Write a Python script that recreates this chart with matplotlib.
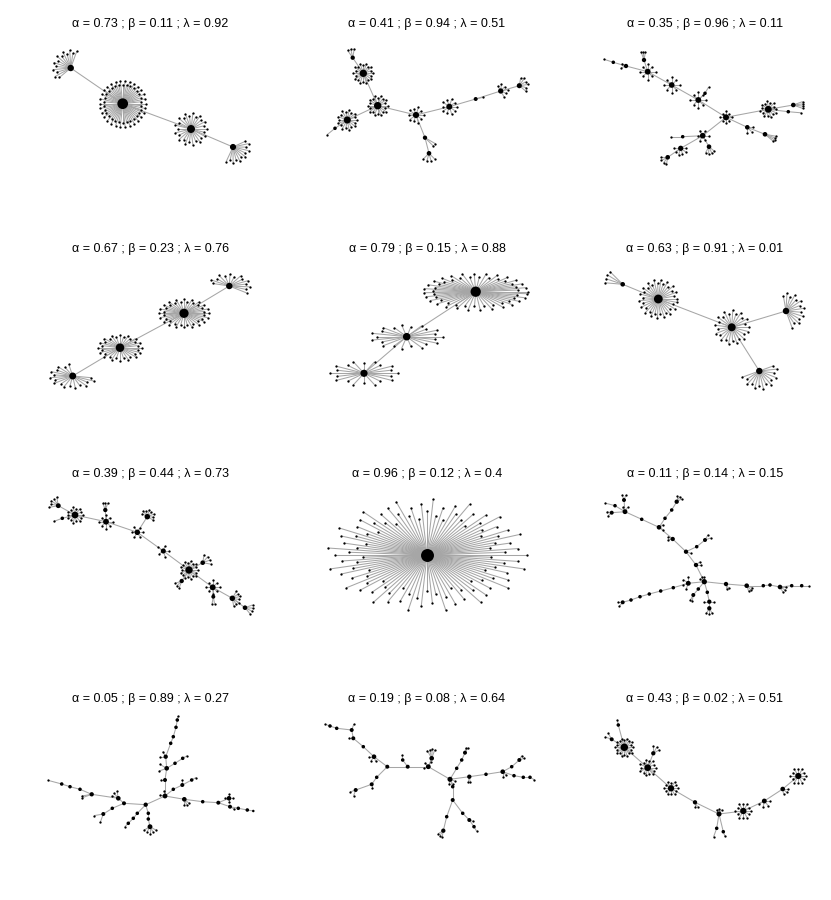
import numpy as np
import matplotlib
matplotlib.use("Agg")
import matplotlib.pyplot as plt
from matplotlib.collections import LineCollection

# ---------------- titles ----------------
alphas = [0.73, 0.41, 0.35, 0.67, 0.79, 0.63, 0.39, 0.96, 0.11, 0.05, 0.19, 0.43]
betas = [0.11, 0.94, 0.96, 0.23, 0.15, 0.91, 0.44, 0.12, 0.14, 0.89, 0.08, 0.02]
lambdas = ["0.92", "0.51", "0.11", "0.76", "0.88", "0.01", "0.73", "0.4", "0.15", "0.27", "0.64", "0.51"]

# ---------------- graphs (layout coordinates, parent index, leaf fans) ----------------
# fan: (node, n_leaves, rx, ry, angle_from, angle_to)
p1_x = [70.7, 122.7, 191, 233]
p1_y = [68, 103.7, 129, 147]
p1_par = [-1, 0, 1, 2]
p1_fans = [(0, 14, 18, 18, 70, 220), (1, 60, 23, 23, 0, 360), (2, 26, 16, 16, 0, 360), (3, 12, 16, 16, -115, 25)]

p2_x = [363.3, 377.7, 347.3, 416, 425, 429, 449.3, 475.7, 500.7, 519.3, 352.7, 335]
p2_y = [73.3, 105.7, 120, 115, 137.7, 153.3, 106.7, 99, 91, 85.7, 57.7, 128.3]
p2_par = [-1, 0, 1, 1, 3, 4, 3, 6, 7, 8, 0, 2]
p2_fans = [(0, 20, 10, 10, 0, 360), (1, 20, 10, 10, 0, 360), (2, 18, 10, 10, 0, 360), (3, 10, 8, 8, 0, 360),
           (4, 2, 12, 12, -45, -30), (5, 4, 8, 8, -135, -45), (6, 10, 8, 8, 0, 360), (7, 1, 7, 7, 13, 13),
           (8, 6, 7, 7, -60, 120), (9, 6, 9, 9, -40, 80), (10, 3, 9, 9, 80, 125), (11, 1, 10, 10, 219, 219)]

p3_x = [726, 698.3, 671.7, 647.7, 644, 626, 613.3, 705, 768.3, 793.3, 788.3, 747.3, 765, 702.7, 682.7, 709, 680.7, 667.7]
p3_y = [117.3, 100, 85, 71.7, 60, 66, 62.3, 93.3, 109.3, 105, 111.7, 127.3, 134.3, 135.7, 136.7, 146.7, 148.3, 157.3]
p3_par = [-1, 0, 1, 2, 3, 3, 5, 1, 0, 8, 8, 0, 11, 0, 13, 13, 13, 16]
p3_fans = [(0, 8, 6, 6, 0, 360), (1, 8, 8, 8, 0, 360), (2, 8, 8, 8, 0, 360), (3, 8, 8, 8, 0, 360),
           (4, 3, 8, 8, 80, 110), (5, 2, 5, 5, 150, 200), (6, 1, 10, 10, 162, 162), (7, 1, 7, 7, 60, 60),
           (8, 15, 8, 8, 0, 360), (9, 4, 10, 10, -20, 20), (10, 1, 13, 13, -5, -5), (11, 3, 6, 6, -90, 0),
           (12, 4, 11, 11, -40, -10), (13, 6, 6, 6, 0, 360), (14, 1, 12, 12, 180, 180), (15, 4, 7, 7, -120, -40),
           (16, 6, 7, 7, -180, 0), (17, 4, 7, 7, 180, 260)]

p4_x = [229.3, 184, 120, 72.7]
p4_y = [286, 313.3, 347.7, 376]
p4_par = [-1, 0, 1, 2]
p4_fans = [(0, 14, 21, 12, -35, 165), (1, 40, 25, 14, 0, 360), (2, 32, 22, 13, 0, 360), (3, 18, 23, 12, 100, 350)]

p5_x = [475.7, 406.7, 364]
p5_y = [291.7, 336.7, 373.3]
p5_par = [-1, 0, 1]
p5_fans = [(0, 55, 52, 18, 0, 360), (1, 22, 36, 12, 0, 360), (2, 20, 34, 12, 0, 360)]

p6_x = [622.7, 658.3, 731.7, 786, 759.3]
p6_y = [284.3, 299, 327.3, 311, 371]
p6_par = [-1, 0, 1, 2, 2]
p6_fans = [(0, 4, 18, 18, 135, 175), (1, 35, 19, 19, 0, 360), (2, 25, 17, 17, 0, 360),
           (3, 14, 18, 18, -70, 100), (4, 14, 18, 18, -160, 20)]

p7_x = [58.3, 75, 106, 137.3, 163.3, 189, 212.7, 232.3, 245, 62.3, 105.3, 147.3, 202.7, 181.7, 213.3]
p7_y = [505.7, 515, 521.7, 532.3, 551, 570, 587.3, 598.3, 607.7, 518.3, 510, 516.7, 562.7, 581, 596.7]
p7_par = [-1, 0, 1, 2, 3, 4, 5, 6, 7, 1, 2, 3, 5, 5, 6]
p7_fans = [(0, 5, 9, 9, 100, 190), (1, 14, 8, 8, 0, 360), (2, 8, 7, 7, 0, 360), (3, 6, 6, 6, 0, 360),
           (4, 5, 6, 6, 0, 360), (5, 18, 9, 9, 0, 360), (6, 8, 7, 7, 0, 360), (7, 7, 8, 8, -80, 60),
           (8, 4, 8, 8, -50, 20), (9, 1, 9, 9, 200, 200), (10, 3, 7, 7, 70, 110), (11, 8, 7, 7, -30, 150),
           (12, 4, 8, 8, -10, 80), (13, 3, 7, 7, 200, 250), (14, 2, 7, 7, -100, -80)]

p8_x = [427]
p8_y = [555]
p8_par = [-1]
p8_fans = [(0, 100, 100, 56, 0, 360)]

p9_x = [704.3, 696, 686, 672.7, 659, 641.7, 625, 615, 611.7, 624, 665, 671.7, 676.7, 696.7, 705,
        688.3, 673.3, 660.7, 649.3, 640, 631, 622.7, 698.3, 693.3, 707.3, 709.3, 709.3,
        726, 746.7, 763.3, 770, 780, 791.7, 801.7]
p9_y = [581.7, 565, 551.7, 539, 527.3, 519.3, 511.7, 505.7, 512.7, 500, 518.3, 510, 501.7, 546.7, 540,
        583.3, 587.7, 591, 594, 596.7, 600, 602.3, 589, 595, 592.3, 601.7, 608.3,
        584, 585.7, 585.7, 585, 587, 585.7, 585.7]
p9_par = [-1, 0, 1, 2, 3, 4, 5, 6, 6, 6, 4, 10, 11, 2, 13,
          0, 15, 16, 17, 18, 19, 20, 0, 22, 0, 24, 25,
          0, 27, 28, 29, 30, 31, 32]
p9_fans = [(7, 1, 10, 10, 165, 165), (8, 2, 5, 5, 170, 220), (9, 2, 5, 5, 70, 110), (6, 2, 5, 5, 60, 120),
           (4, 2, 5, 5, -30, 30), (12, 3, 6, 6, 30, 90), (3, 2, 5, 5, 150, 190), (14, 2, 6, 6, 20, 60),
           (2, 1, 5, 5, -20, -20), (15, 4, 6, 6, 90, 250), (21, 2, 5, 5, 180, 230), (23, 2, 6, 6, -120, -100),
           (26, 3, 6, 6, -120, -60), (25, 2, 5, 5, 0, 180), (27, 2, 5, 5, -80, -60), (28, 3, 6, 6, -70, -20),
           (31, 3, 6, 6, -60, 0), (33, 1, 7, 7, 0, 0), (1, 2, 5, 5, 0, 40), (0, 3, 5, 5, 90, 150)]

p10_x = [165, 145.7, 124, 165, 166.7, 175, 182.7, 165.7, 170.7, 173.3, 176, 177.3, 173.3, 182.3, 191.7,
         184.3, 202.7, 218.3, 230, 229, 238.3, 247.3, 253.3, 118.3, 91.7, 80, 70, 61.7,
         112.3, 103.3, 148.3, 148.3, 150, 137.3, 133.3, 128.3]
p10_y = [796, 804.7, 803.3, 780, 768.3, 763.3, 758.3, 756.7, 743.3, 736.7, 727.3, 720, 789.3, 785, 780,
         799.3, 801.7, 802.7, 806.7, 798.3, 808.3, 810, 811, 798.3, 794.3, 789.3, 786.7, 784,
         808.3, 814, 813.3, 819, 826.7, 813.3, 818.3, 823.3]
p10_par = [-1, 0, 1, 0, 3, 4, 5, 4, 7, 8, 9, 10, 0, 12, 13,
           0, 15, 16, 17, 17, 18, 20, 21, 2, 23, 24, 25, 26,
           2, 28, 1, 30, 31, 1, 33, 34]
p10_fans = [(32, 5, 7, 7, -150, -30), (27, 1, 14, 14, 165, 165), (24, 2, 10, 10, 190, 200), (23, 3, 7, 7, 100, 160),
            (29, 2, 9, 9, 190, 250), (35, 1, 5, 5, 225, 225), (11, 1, 4, 4, 80, 80), (4, 2, 8, 8, 150, 200),
            (7, 2, 6, 6, 120, 180), (6, 1, 5, 5, 30, 30), (14, 1, 5, 5, 30, 30), (13, 1, 5, 5, 90, 90),
            (15, 3, 6, 6, -90, -40), (19, 4, 4, 4, 0, 360), (18, 1, 5, 5, -30, -30), (3, 1, 4, 4, 180, 180),
            (0, 2, 5, 5, 100, 170)]

p11_x = [450, 428.3, 407.7, 387.3, 374, 363.3, 353.3, 351.7, 336.7, 330, 431.7, 402.7, 376.7, 371.7, 355.7,
         456.7, 461.7, 465, 452.7, 452.7, 446.7, 443.3, 462.7, 469.3, 474,
         469.3, 486, 502.7, 511.7, 519.3, 514, 523.3, 530]
p11_y = [779.3, 766.7, 766.7, 766.7, 756.7, 746.7, 738.3, 730, 728.3, 726, 758.3, 760, 777.3, 784.3, 790,
         768.3, 760, 752.7, 786.7, 800, 816.7, 830.7, 813.3, 820, 826.7,
         776.7, 774.3, 771.7, 766.7, 760, 775.7, 777.3, 777.3]
p11_par = [-1, 0, 1, 2, 3, 4, 5, 6, 7, 8, 1, 2, 3, 12, 13,
           0, 15, 16, 0, 18, 19, 20, 19, 22, 23,
           0, 25, 26, 27, 28, 27, 30, 31]
p11_fans = [(10, 4, 9, 9, 70, 120), (1, 3, 5, 5, 60, 200), (11, 1, 5, 5, 95, 95), (4, 3, 5, 5, 180, 290),
            (7, 1, 6, 6, 70, 70), (9, 1, 5, 5, 160, 160), (14, 2, 6, 6, 200, 250), (13, 1, 4, 4, -90, -90),
            (17, 2, 5, 5, 60, 80), (21, 3, 6, 6, -150, -100), (24, 1, 5, 5, -60, -60), (23, 1, 4, 4, -20, -20),
            (25, 2, 5, 5, -100, -80), (0, 3, 5, 5, -100, -20), (27, 2, 5, 5, -90, -45), (29, 2, 5, 5, 20, 60),
            (32, 1, 5, 5, -30, -30), (6, 1, 4, 4, 180, 180)]

p12_x = [624.3, 647.7, 671, 695, 719, 743.3, 764.3, 782.7, 798.3, 611.7, 618.3, 653.3, 716.7, 723.3]
p12_y = [747.3, 767.7, 788.3, 802.3, 814, 811, 801, 789, 776, 739.3, 725, 753.3, 828.3, 831.7]
p12_par = [-1, 0, 1, 2, 3, 4, 5, 6, 7, 0, 0, 1, 4, 4]
p12_fans = [(0, 20, 9, 9, 0, 360), (1, 14, 8, 8, 0, 360), (2, 12, 7, 7, 0, 360), (3, 2, 5, 5, -90, -60),
            (4, 3, 5, 5, 60, 120), (5, 12, 8, 8, 0, 360), (6, 4, 6, 6, -150, 0), (7, 3, 5, 5, -80, 0),
            (8, 12, 8, 8, 0, 360), (9, 2, 7, 7, 120, 160), (10, 1, 5, 5, 100, 100), (11, 3, 7, 7, 30, 90),
            (12, 1, 9, 9, -110, -110), (13, 1, 5, 5, -70, -70)]

graphs = [
    (p1_x, p1_y, p1_par, p1_fans), (p2_x, p2_y, p2_par, p2_fans), (p3_x, p3_y, p3_par, p3_fans),
    (p4_x, p4_y, p4_par, p4_fans), (p5_x, p5_y, p5_par, p5_fans), (p6_x, p6_y, p6_par, p6_fans),
    (p7_x, p7_y, p7_par, p7_fans), (p8_x, p8_y, p8_par, p8_fans), (p9_x, p9_y, p9_par, p9_fans),
    (p10_x, p10_y, p10_par, p10_fans), (p11_x, p11_y, p11_par, p11_fans), (p12_x, p12_y, p12_par, p12_fans),
]

# ---------------- drawing ----------------
W, H = 831, 900
fig = plt.figure(figsize=(W / 100, H / 100), dpi=100)
ax = fig.add_axes([0, 0, 1, 1])
ax.set_xlim(0, W)
ax.set_ylim(H, 0)
ax.axis("off")

PX = 0.72  # points per pixel at 100 dpi


def fan_points(hx, hy, n, rx, ry, a0, a1, star=False):
    pts = []
    if n <= 0:
        return pts
    full = (a1 - a0) >= 360
    ring = [1.0, 0.82] if n >= 5 else [1.0]
    if star:
        ring = [1.0, 0.78, 0.92, 0.64, 0.86, 0.71]
    for k in range(n):
        if full:
            a = a0 + 360.0 * k / n
        elif n == 1:
            a = a0
        else:
            a = a0 + (a1 - a0) * k / (n - 1)
        f = ring[k % len(ring)]
        t = np.deg2rad(a)
        pts.append((hx + rx * f * np.cos(t), hy - ry * f * np.sin(t)))
    return pts


title_cx = [150.5, 427, 705]
title_cy = [24, 249, 474, 699]

for g, (xs, ys, par, fans) in enumerate(graphs):
    row, col = divmod(g, 3)
    deg = [0] * len(xs)
    segs_main = []
    for i, p in enumerate(par):
        if p >= 0:
            segs_main.append([(xs[p], ys[p]), (xs[i], ys[i])])
            deg[i] += 1
            deg[p] += 1
    leaf_x, leaf_y, segs_leaf = [], [], []
    for (node, n, rx, ry, a0, a1) in fans:
        pts = fan_points(xs[node], ys[node], n, rx, ry, a0, a1, star=(g == 7))
        deg[node] += n
        for (lx, ly) in pts:
            leaf_x.append(lx)
            leaf_y.append(ly)
            segs_leaf.append([(xs[node], ys[node]), (lx, ly)])
    ax.add_collection(LineCollection(segs_leaf + segs_main, colors="#a6a6a6", linewidths=0.75, zorder=1))
    ax.scatter(leaf_x, leaf_y, s=(2.3 * PX) ** 2, c="black", linewidths=0, zorder=2)
    sizes = [((2.5 + 1.05 * np.sqrt(max(d - 1, 0))) * PX) ** 2 for d in deg]
    ax.scatter(xs, ys, s=sizes, c="black", linewidths=0, zorder=3)

    title = "\u03b1 = %.2f ; \u03b2 = %.2f ; \u03bb = %s" % (alphas[g], betas[g], lambdas[g])
    ax.text(title_cx[col], title_cy[row], title, ha="center", va="center",
            fontsize=9, family=["Liberation Sans", "DejaVu Sans"], color="black")

fig.savefig("out.png", dpi=100, facecolor="white")
